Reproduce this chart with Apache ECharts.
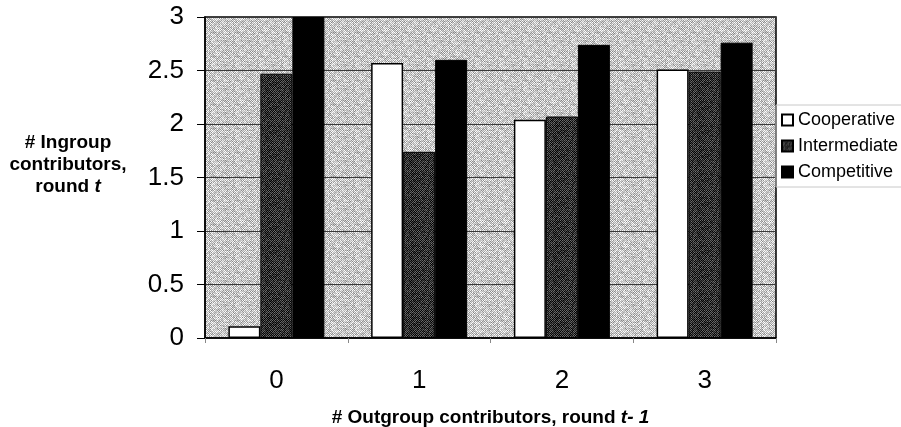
<!DOCTYPE html>
<html>
<head>
<meta charset="utf-8">
<script src="https://cdn.jsdelivr.net/npm/echarts@6/dist/echarts.min.js"></script>
<style>
  html, body { margin: 0; padding: 0; background: #fff; }
  #chart { width: 901px; height: 427px; }
</style>
</head>
<body>
<div id="chart"></div>
<script>
// Outgroup contributors in round t-1
const categories = ['0', '1', '2', '3'];
// Mean number of ingroup contributors in round t, by treatment
const cooperative  = [0.11, 2.57, 2.04, 2.51];
const intermediate = [2.47, 1.74, 2.07, 2.49];
const competitive  = [3.00, 2.60, 2.74, 2.76];
const seriesNames = ['Cooperative', 'Intermediate', 'Competitive'];

// Small deterministic dither tile used as a screened fill
function ditherTile(size, light, dark, spread, seed) {
  const c = document.createElement('canvas');
  c.width = size; c.height = size;
  const ctx = c.getContext('2d');
  let s = seed;
  const next = () => { s = (s * 16807) % 2147483647; return s / 2147483647; };
  for (let y = 0; y < size; y++) {
    for (let x = 0; x < size; x++) {
      const checker = (x + y) % 2 === 0;
      const v = checker ? light : dark;
      const jitter = Math.round((next() - 0.5) * spread);
      const g = Math.max(0, Math.min(255, v + jitter));
      ctx.fillStyle = 'rgb(' + g + ',' + g + ',' + g + ')';
      ctx.fillRect(x, y, 1, 1);
    }
  }
  return c;
}

const plotFill = { image: ditherTile(24, 230, 165, 70, 7), repeat: 'repeat' };
const midFill  = { image: ditherTile(24, 85, 10, 60, 13), repeat: 'repeat' };

const chart = echarts.init(document.getElementById('chart'), null, { renderer: 'canvas' });

const font = '"Liberation Sans", Arial, sans-serif';
const titleSize = 19;

chart.setOption({
  animation: false,
  backgroundColor: '#fff',
  grid: {
    left: 205, right: 125, top: 17, bottom: 89,
    containLabel: false,
    outerBoundsMode: 'none',
    show: true,
    backgroundColor: plotFill,
    borderColor: '#000',
    borderWidth: 1.5
  },
  legend: {
    data: seriesNames,
    orient: 'vertical',
    left: 776, top: 105,
    padding: [6, 8, 6, 5],
    icon: 'rect',
    itemWidth: 11, itemHeight: 11,
    itemGap: 8,
    borderColor: '#c8c8c8', borderWidth: 1,
    textStyle: { fontFamily: font, fontSize: 18, color: '#000', lineHeight: 18 }
  },
  xAxis: {
    type: 'category',
    data: categories,
    axisLine: { show: true, lineStyle: { color: '#000', width: 1.5 } },
    axisTick: { show: true, length: 5, lineStyle: { color: '#888' } },
    axisLabel: { fontFamily: font, fontSize: 26, color: '#000', margin: 30 },
    name: '# Outgroup contributors, round {i|t- 1}',
    nameLocation: 'middle',
    nameGap: 70,
    nameTextStyle: {
      fontFamily: font, fontSize: titleSize, fontWeight: 'bold', color: '#000',
      rich: { i: { fontFamily: font, fontSize: titleSize, fontWeight: 'bold', fontStyle: 'italic', color: '#000' } }
    }
  },
  yAxis: {
    type: 'value',
    min: 0, max: 3, interval: 0.5,
    axisLine: { show: true, lineStyle: { color: '#000', width: 1.5 } },
    axisTick: { show: true, length: 8, lineStyle: { color: '#000' } },
    axisLabel: { fontFamily: font, fontSize: 26, color: '#000', margin: 21 },
    splitLine: { show: true, lineStyle: { color: '#3a3a3a', width: 1 } }
  },
  graphic: [{
    type: 'text',
    x: 68, y: 165,
    style: {
      text: '# Ingroup\ncontributors,\nround {i|t}',
      align: 'center', verticalAlign: 'middle',
      fontFamily: font, fontSize: titleSize, fontWeight: 'bold', fill: '#000',
      lineHeight: 22,
      rich: { i: { fontFamily: font, fontSize: titleSize, fontWeight: 'bold', fontStyle: 'italic', fill: '#000', lineHeight: 22 } }
    }
  }],
  series: [
    {
      name: seriesNames[0], type: 'bar', data: cooperative,
      barWidth: 32, barGap: '0%',
      itemStyle: { color: '#fff', borderColor: '#000', borderWidth: 1.5 }
    },
    {
      name: seriesNames[1], type: 'bar', data: intermediate,
      barWidth: 32, barGap: '0%',
      itemStyle: { color: midFill, borderColor: '#000', borderWidth: 1 }
    },
    {
      name: seriesNames[2], type: 'bar', data: competitive,
      barWidth: 32, barGap: '0%',
      itemStyle: { color: '#000', borderColor: '#000', borderWidth: 1 }
    }
  ]
});
</script>
</body>
</html>
